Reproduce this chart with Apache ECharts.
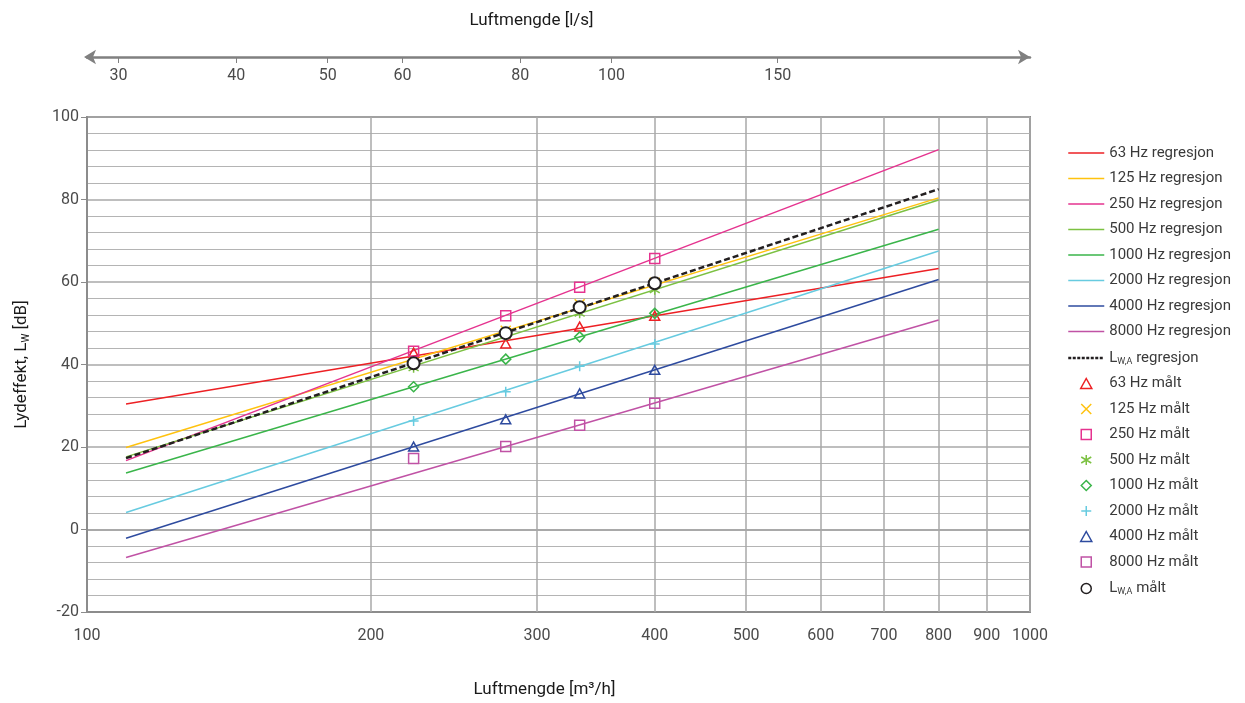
<!DOCTYPE html>
<html>
<head>
<meta charset="utf-8">
<script src="https://cdn.jsdelivr.net/npm/echarts@6/dist/echarts.min.js"></script>
<style>
  html, body { margin: 0; padding: 0; background: #fff; }
  #chart { width: 1245px; height: 703px; }
</style>
</head>
<body>
<div id="chart"></div>
<script>
// air flow in m3/h
const flowRange = [110, 800];
const flowMeasured = [222, 278, 333, 400];

const bottomTicks = [100, 200, 300, 400, 500, 600, 700, 800, 900, 1000];
const topTicks = [30, 40, 50, 60, 80, 100, 150]; // l/s

const bands = ["63 Hz", "125 Hz", "250 Hz", "500 Hz", "1000 Hz", "2000 Hz", "4000 Hz", "8000 Hz", "LWA"];

// regression line values at flowRange[0] and flowRange[1]
const reg63 = [30.4, 63.3];
const reg125 = [19.9, 80.4];
const reg250 = [16.7, 92.1];
const reg500 = [17.6, 79.9];
const reg1000 = [13.7, 72.8];
const reg2000 = [4.1, 67.5];
const reg4000 = [-2.1, 60.6];
const reg8000 = [-6.8, 50.8];
const regLwa = [17.3, 82.5];

// measured values at flowMeasured
const m63 = [42.9, 45.1, 49.2, 51.8];
const m125 = [40.9, 48.2, 54.6, 59.8];
const m250 = [43.2, 51.8, 58.7, 65.7];
const m500 = [39.2, 47.0, 52.4, 58.1];
const m1000 = [34.6, 41.3, 46.7, 52.4];
const m2000 = [26.3, 33.4, 39.6, 45.0];
const m4000 = [20.1, 26.7, 33.0, 38.7];
const m8000 = [17.2, 20.1, 25.3, 30.6];
const mLwa = [40.3, 47.6, 53.9, 59.7];

const regs = [reg63, reg125, reg250, reg500, reg1000, reg2000, reg4000, reg8000, regLwa];
const meas = [m63, m125, m250, m500, m1000, m2000, m4000, m8000, mLwa];

const colors = ["#ed2024", "#ffc20e", "#e5338f", "#7cc142", "#3ab54a", "#67cbe0", "#2e4b9f", "#c052a5", "#231f20"];

// path symbols so the legend keeps their aspect
const triPath = "path://M5,0L10,9L0,9Z";
const boxPath = "path://M0,0L10,0L10,10L0,10Z";
const diaPath = "path://M5,0L10,5L5,10L0,5Z";
const crossPath = "path://M0,0L10,10M10,0L0,10";
const plusPath = "path://M5,0L5,10M0,5L10,5";
const starPath = "path://M5,0L5,10M0,2L10,8M10,2L0,8";
const symbols = [triPath, crossPath, boxPath, starPath, diaPath, plusPath, triPath, boxPath, "circle"];

const fontFam = "Roboto, 'Liberation Sans', sans-serif";

const series = [];
const legendData = [];
regs.forEach((r, i) => {
  const name = bands[i] + " regresjon";
  series.push({
    name: name,
    type: "line",
    symbol: "none",
    silent: true,
    xAxisIndex: 0,
    lineStyle: {
      color: colors[i],
      width: i === 8 ? 2.5 : 1.5,
      type: i === 8 ? [6, 3] : "solid",
    },
    itemStyle: { color: colors[i] },
    data: flowRange.map((x, k) => [x, r[k]]),
  });
  // hide the dot that the legend puts on line icons
  legendData.push({
    name: name,
    itemStyle: { opacity: 0, borderWidth: 0 },
    lineStyle: i === 8 ? { type: [3, 1.5], width: 2.5 } : { width: 1.5 },
  });
});
meas.forEach((m, i) => {
  const name = bands[i] + " målt";
  series.push({
    name: name,
    type: "scatter",
    xAxisIndex: 0,
    symbol: symbols[i],
    symbolSize: i === 8 ? 12 : 10,
    symbolKeepAspect: true,
    z: 3,
    itemStyle: {
      color: i === 8 ? "#fff" : "rgba(255,255,255,0)",
      borderColor: colors[i],
      borderWidth: i === 8 ? 2 : 1.5,
      opacity: 1,
    },
    data: flowMeasured.map((x, k) => [x, m[k]]),
  });
  legendData.push({ name: name });
});

const option = {
  animation: false,
  textStyle: { fontFamily: fontFam },
  grid: {
    left: 87,
    right: 215,
    top: 117,
    bottom: 91,
    show: true,
    borderColor: "#8c8c8c",
    borderWidth: 2,
  },
  legend: {
    data: legendData,
    orient: "vertical",
    left: 1062,
    top: 140,
    itemWidth: 36,
    itemHeight: 10,
    itemGap: 9.5,
    symbolKeepAspect: true,
    itemStyle: { borderWidth: 1.5 },
    textStyle: {
      fontSize: 15,
      color: "#3a3a3a",
      lineHeight: 16,
      rich: {
        sub: { fontSize: 9, lineHeight: 16, verticalAlign: "bottom", padding: [8, 0, 0, 0], color: "#3a3a3a" },
      },
    },
    formatter: (name) => name.replace("LWA", "L{sub|W,A}"),
  },
  xAxis: [
    {
      type: "log",
      logBase: 10,
      min: 100,
      max: 1000,
      position: "bottom",
      name: "Luftmengde [m³/h]",
      nameLocation: "middle",
      nameGap: 69,
      nameTextStyle: { fontSize: 17, color: "#1a1a1a", padding: [0, 28, 0, 0] },
      axisLine: { show: false },
      axisTick: { show: false, customValues: bottomTicks },
      axisLabel: {
        customValues: bottomTicks,
        fontSize: 16,
        color: "#4a4a4a",
        margin: 16,
        formatter: (v) => String(Math.round(v)),
      },
      splitLine: { show: true, lineStyle: { color: "#a8a8a8", width: 1.5 } },
    },
    {
      type: "log",
      logBase: 10,
      min: 100 / 3.6,
      max: 1000 / 3.6,
      position: "top",
      offset: 60,
      name: "Luftmengde [l/s]",
      nameLocation: "middle",
      nameGap: 28,
      nameTextStyle: { fontSize: 17, color: "#1a1a1a", padding: [0, 54, 0, 0] },
      axisLine: {
        show: true,
        symbol: ["arrow", "arrow"],
        symbolSize: [11, 12],
        symbolOffset: [-3, 0],
        lineStyle: { color: "#808080", width: 2.5 },
      },
      axisTick: {
        show: true,
        inside: true,
        length: 6,
        customValues: topTicks,
        lineStyle: { color: "#808080", width: 1 },
      },
      axisLabel: {
        inside: true,
        customValues: topTicks,
        fontSize: 16,
        color: "#4a4a4a",
        margin: 11,
        formatter: (v) => String(Math.round(v)),
      },
      splitLine: { show: false },
    },
  ],
  yAxis: {
    type: "value",
    min: -20,
    max: 100,
    interval: 20,
    name: "Lydeffekt, L{sub|W} [dB]",
    nameLocation: "middle",
    nameGap: 56,
    nameRotate: 90,
    nameTextStyle: {
      fontSize: 17,
      color: "#1a1a1a",
      rich: { sub: { fontSize: 10, verticalAlign: "bottom", padding: [8, 0, 0, 0], color: "#1a1a1a" } },
    },
    axisLine: { show: true, lineStyle: { color: "#8c8c8c", width: 2 } },
    axisTick: { show: true, length: 6, lineStyle: { color: "#8c8c8c", width: 1 } },
    axisLabel: { fontSize: 16, color: "#4a4a4a", margin: 8 },
    splitLine: {
      show: true,
      lineStyle: {
        color: ["#8c8c8c", "#8c8c8c", "#a8a8a8", "#a8a8a8", "#a8a8a8", "#a8a8a8", "#a8a8a8"],
        width: 1.5,
      },
    },
    minorTick: { show: false, splitNumber: 5 },
    minorSplitLine: { show: true, lineStyle: { color: "#b4b4b4", width: 1.2 } },
  },
  series: series,
};

const chart = echarts.init(document.getElementById("chart"));
chart.setOption(option);
</script>
</body>
</html>
